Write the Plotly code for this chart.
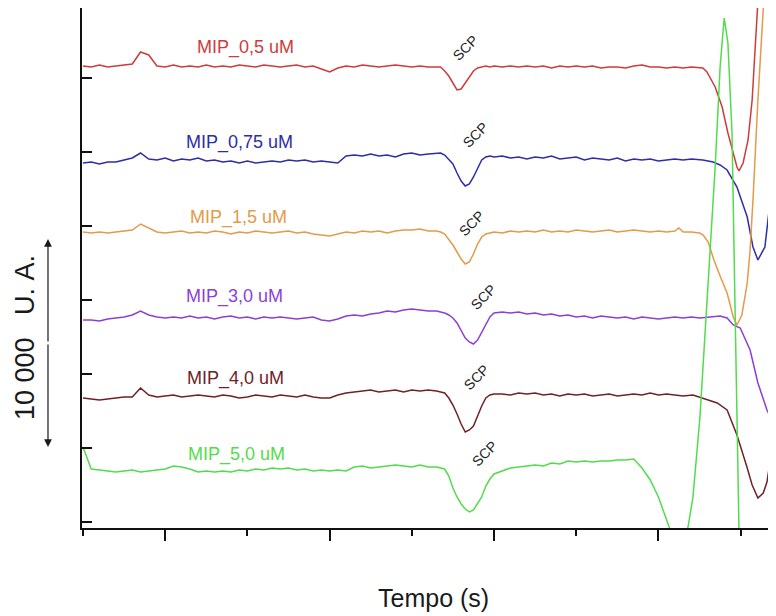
import plotly.graph_objects as go

# ---------------- data (time in s, signal in U.A.) ----------------
# shared sampling grid of the flat part (finer around the SCP dip)
t_grid = list(range(10, 54)) + [53.5, 54, 54.5, 55, 55.5, 56, 56.5, 57, 57.5, 58,
                                 58.5, 59, 59.5, 60] + list(range(61, 82))

names = ["MIP_0,5 uM", "MIP_0,75 uM", "MIP_1,5 uM", "MIP_3,0 uM", "MIP_4,0 uM", "MIP_5,0 uM"]

red_vals = [22800, 22750, 22850, 22750, 22800, 22850, 22900, 23500, 23350, 22800,
            22750, 22850, 22750, 22800, 22750, 22850, 22750, 22800, 22750, 22850,
            22800, 22750, 22850, 22800, 22750, 22800, 22850, 22750, 22800, 22650,
            22500, 22700, 22800, 22750, 22850, 22800, 22750, 22800, 22850, 22800,
            22750, 22800, 22750, 22750,
            22750, 22550, 22300, 21950, 21600, 21650, 21950, 22300, 22550, 22700,
            22750, 22800, 22750, 22800,
            22750, 22800, 22750, 22800, 22750, 22800, 22700, 22800, 22750, 22800,
            22750, 22800, 22700, 22750, 22750, 22700, 22800, 22850, 22750, 22750, 22700]
red_tail_t = [82, 83, 84, 85.4, 85.9, 86.9, 87.75, 88.45, 89.1, 89.55, 89.8, 90.3, 90.9,
              91.4, 91.75, 92.0, 92.4]
red_tail_v = [22750, 22700, 22750, 22700, 22500, 21750, 20750, 19450, 18450, 17750, 17550,
              17950, 19100, 21100, 23600, 25700, 28100]

blue_vals = [17950, 18000, 17900, 18000, 18000, 18100, 18200, 18450, 18150, 18100,
             18200, 18050, 18150, 18100, 18200, 18050, 18100, 18000, 18050, 17950,
             18050, 17950, 18000, 18050, 18000, 18100, 18050, 18100, 18000, 18050,
             18000, 17950, 18300, 18350, 18300, 18400, 18300, 18350, 18250, 18400,
             18450, 18350, 18400, 18450,
             18450, 18350, 18150, 17900, 17450, 17050, 16800, 16900, 17250, 17700,
             18100, 18250, 18300, 18250,
             18300, 18200, 18250, 18150, 18250, 18200, 18300, 18150, 18200, 18250,
             18100, 18200, 18150, 18100, 18200, 18050, 18150, 18100, 18150, 18050, 18100]
blue_tail_t = [82, 83, 84, 85.4, 86.65, 87.5, 88.35, 89.55, 90.8, 91.5, 92.1, 92.95, 93.6,
               93.95, 94.3, 94.8]
blue_tail_v = [18150, 18100, 18150, 18100, 18000, 17850, 17600, 16750, 15250, 13750, 13100,
               13750, 16100, 18600, 20600, 22600]

orange_vals = [14500, 14450, 14500, 14450, 14500, 14550, 14600, 14900, 14700, 14500,
               14450, 14500, 14550, 14450, 14500, 14450, 14550, 14500, 14400, 14500,
               14450, 14550, 14500, 14450, 14500, 14550, 14450, 14500, 14400, 14350,
               14300, 14400, 14500, 14450, 14550, 14500, 14550, 14450, 14550, 14600,
               14600, 14650, 14550, 14550,
               14500, 14400, 14150, 13850, 13500, 13150, 12900, 13000, 13400, 13900,
               14250, 14400, 14450, 14500,
               14450, 14550, 14500, 14550, 14500, 14600, 14500, 14550, 14500, 14600,
               14550, 14500, 14550, 14600, 14500, 14550, 14600, 14550, 14500, 14550, 14500]
orange_tail_t = [82, 82.5, 83, 84, 85.0, 85.45, 86.05, 86.75, 87.5, 88.35, 89.1, 89.55,
                 90.15, 90.8, 91.15, 91.5, 92.1, 92.75, 93.1]
orange_tail_v = [14550, 14700, 14500, 14500, 14450, 14350, 14000, 13100, 12300, 11450,
                 10250, 9850, 10350, 11950, 13600, 16100, 21100, 25600, 28100]

purple_vals = [10100, 10100, 10050, 10150, 10200, 10250, 10350, 10550, 10350, 10250,
               10200, 10250, 10200, 10300, 10200, 10250, 10150, 10250, 10300, 10200,
               10250, 10150, 10250, 10200, 10250, 10200, 10150, 10200, 10250, 10100,
               10050, 10150, 10300, 10350, 10300, 10400, 10450, 10550, 10500, 10600,
               10650, 10600, 10550, 10550,
               10500, 10450, 10350, 10200, 9950, 9550, 9200, 9000, 8900, 9100,
               9500, 9900, 10250, 10450,
               10500, 10450, 10500, 10400, 10450, 10350, 10400, 10300, 10350, 10250,
               10300, 10200, 10300, 10250, 10200, 10250, 10150, 10250, 10200, 10150, 10200]
purple_tail_t = [82, 83, 84, 85.05, 86.5, 87.5, 88.35, 89.1, 89.95, 91.15, 92.1, 93.2,
                 93.8, 94.3, 94.8]
purple_tail_v = [10250, 10200, 10250, 10200, 10250, 10300, 10200, 9850, 9700, 8600, 6950,
                 5600, 5100, 5950, 7100]

maroon_vals = [6200, 6150, 6100, 6150, 6200, 6250, 6250, 6700, 6350, 6250,
               6300, 6350, 6250, 6300, 6350, 6300, 6250, 6350, 6300, 6200,
               6250, 6350, 6300, 6250, 6350, 6300, 6250, 6350, 6250, 6200,
               6200, 6350, 6450, 6500, 6550, 6600, 6500, 6550, 6600, 6500,
               6600, 6550, 6600, 6550,
               6500, 6450, 6200, 5850, 5400, 4900, 4500, 4600, 4800, 5300,
               5800, 6200, 6350, 6400,
               6400, 6350, 6450, 6400, 6450, 6350, 6400, 6300, 6400, 6350,
               6400, 6300, 6350, 6400, 6300, 6350, 6400, 6350, 6450, 6350, 6400]
maroon_tail_t = [82, 83, 84.2, 85.9, 87.15, 88.35, 89.55, 90.8, 91.4, 92.1, 92.75, 93.2,
                 93.8, 94.3, 94.8]
maroon_tail_v = [6350, 6300, 6350, 6100, 5950, 5600, 4350, 2700, 1850, 1200, 1450, 2000,
                 3600, 6350, 8600]

green_vals = [3750, 2650, 2600, 2550, 2500, 2550, 2600, 2500, 2550, 2600,
              2650, 2800, 2750, 2650, 2500, 2550, 2500, 2550, 2500, 2600,
              2550, 2650, 2600, 2700, 2650, 2700, 2600, 2650, 2550, 2600,
              2550, 2600, 2550, 2750, 2800, 2700, 2750, 2800, 2850, 2800,
              2750, 2850, 2750, 2750,
              2700, 2650, 2300, 1700, 1250, 900, 650, 500, 600, 900,
              1250, 1800, 2150, 2400,
              2550, 2700, 2750, 2800, 2850, 2800, 2950, 2900, 3050, 3000,
              3050, 3000, 3050, 3050, 3100, 3100, 3150, 2700, 2100, 1250, 100]
green_tail_t = [82, 82.5, 83, 83.6, 84.2, 85.05, 86.3, 86.9, 87.5, 88.0, 88.45, 88.95,
                89.3, 89.55, 89.7, 89.95]
green_tail_v = [-1050, -1400, -1050, -250, 1250, 5250, 13600, 17750, 22750, 25200, 23950,
                19450, 11100, 5250, -250, -3900]

# label anchor positions (time, signal) for curve names and SCP marks
name_pos_t = [29.8, 29.0, 28.9, 28.4, 28.6, 28.7]
name_pos_v = [23750, 19000, 15250, 11300, 7200, 3400]
scp_pos_t = [56.5, 57.7, 57.3, 58.7, 57.9, 58.9]
scp_pos_v = [23700, 19350, 14950, 11250, 7250, 3450]

colors = ["#cf3b3b", "#2d2da8", "#e49a48", "#8c3fd6", "#6e2226", "#52dc4c"]

series = [
    (red_vals, red_tail_t, red_tail_v),
    (blue_vals, blue_tail_t, blue_tail_v),
    (orange_vals, orange_tail_t, orange_tail_v),
    (purple_vals, purple_tail_t, purple_tail_v),
    (maroon_vals, maroon_tail_t, maroon_tail_v),
    (green_vals, green_tail_t, green_tail_v),
]

FONT = "Arial, 'Liberation Sans', sans-serif"

fig = go.Figure()
for (vals, tt, tv), c, n in zip(series, colors, names):
    fig.add_trace(go.Scatter(x=t_grid + tt, y=vals + tv, mode="lines", name=n,
                             line=dict(color=c, width=1.5), hoverinfo="skip",
                             showlegend=False))

annotations = []
for n, c, x, y in zip(names, colors, name_pos_t, name_pos_v):
    annotations.append(dict(x=x, y=y, xref="x", yref="y", text=n, showarrow=False,
                            font=dict(family=FONT, size=18, color=c)))
for x, y in zip(scp_pos_t, scp_pos_v):
    annotations.append(dict(x=x, y=y, xref="x", yref="y", text="SCP", showarrow=False,
                            textangle=-45, font=dict(family=FONT, size=14, color="#222222")))

# axis titles
annotations.append(dict(x=0.507, y=-0.1346, xref="paper", yref="paper", text="Tempo (s)",
                        showarrow=False, xanchor="center", yanchor="middle",
                        font=dict(family=FONT, size=25, color="#1a1a1a")))
annotations.append(dict(x=-0.082, y=0.3654, xref="paper", yref="paper",
                        text="10\u00a0000\u00a0\u00a0\u00a0U.\u00a0A.", textangle=-90,
                        showarrow=False, xanchor="center", yanchor="middle",
                        font=dict(family=FONT, size=27, color="#1a1a1a")))
# double-headed scale arrow
for head_y, ay in [(0.5558, 104), (0.1558, -104)]:
    annotations.append(dict(x=-0.049, y=head_y, xref="paper", yref="paper", text="",
                            showarrow=True, ax=0, ay=ay, axref="pixel", ayref="pixel",
                            arrowhead=2, arrowsize=1.3, arrowwidth=1.2,
                            arrowcolor="#1a1a1a", standoff=0, startstandoff=0))

# page body has an 8px margin, so the figure is 8px smaller and margins shifted
fig.update_layout(
    width=768, height=608,
    margin=dict(l=74, r=0, t=0, b=88, pad=0),
    paper_bgcolor="white", plot_bgcolor="white",
    annotations=annotations,
    xaxis=dict(range=[9.88, 94.3], showline=True, linecolor="#111111", linewidth=2,
               mirror=False, ticks="outside", tick0=20, dtick=20, ticklen=11,
               tickwidth=2, tickcolor="#111111", showticklabels=False,
               showgrid=False, zeroline=False,
               minor=dict(ticks="outside", tick0=10, dtick=20, ticklen=6,
                          tickwidth=2, tickcolor="#111111", showgrid=False)),
    yaxis=dict(range=[-300, 25700], showline=True, linecolor="#111111", linewidth=2,
               ticks="inside", tick0=0, dtick=3700, ticklen=10, tickwidth=2,
               tickcolor="#111111", showticklabels=False, showgrid=False,
               zeroline=False),
)

fig.write_html("out.html")
